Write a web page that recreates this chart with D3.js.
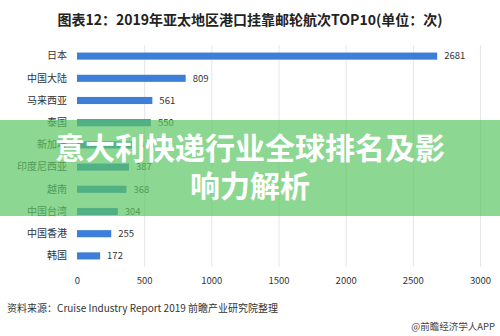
<!DOCTYPE html>
<html><head><meta charset="utf-8">
<script src="https://cdn.jsdelivr.net/npm/d3@7"></script>
<style>
html,body{margin:0;padding:0;background:#fff;}
svg{display:block;font-family:"Noto Sans CJK SC","Noto Sans",sans-serif;}
</style></head>
<body>
<svg id="c" width="500" height="336"></svg>
<script>
const categories = ["日本","中国大陆","马来西亚","泰国","新加坡","印度尼西亚","越南","中国台湾","中国香港","韩国"];
const values = [2681, 809, 561, 550, 410, 387, 368, 304, 255, 172];
const xTicks = [0, 500, 1000, 1500, 2000, 2500, 3000];
const titleText = "图表12：2019年亚太地区港口挂靠邮轮航次TOP10(单位：次)";
const sourceText = "资料来源：Cruise Industry Report 2019 前瞻产业研究院整理";
const brandText = "@前瞻经济学人APP";
const bannerLines = ["意大利快递行业全球排名及影", "响力解析"];

const svg = d3.select("#c");
const x = d3.scaleLinear().domain([0, 3000]).range([77, 480]);
const y = d3.scaleBand().domain(categories).range([45, 267]).paddingInner(0.68).paddingOuter(0.34);

svg.append("text").attr("x", 250).attr("y", 25).attr("text-anchor", "middle")
  .attr("font-size", 14).attr("font-weight", "bold").attr("fill", "#222").text(titleText);

// gridlines
svg.append("g").selectAll("line").data(xTicks.slice(1)).join("line")
  .attr("x1", d => x(d) + 0.5).attr("x2", d => x(d) + 0.5)
  .attr("y1", 45).attr("y2", 267).attr("stroke", "#e3e6ea").attr("stroke-width", 1);

// x axis labels
const xAxis = d3.axisBottom(x).tickValues(xTicks).tickFormat(d3.format("d")).tickSize(0).tickPadding(0);
const gx = svg.append("g").attr("transform", "translate(0,277)").call(xAxis);
gx.select(".domain").remove();
gx.selectAll("text").attr("font-size", 9.5).attr("fill", "#333")
  .attr("font-family", "'Noto Sans CJK SC','Noto Sans',sans-serif");

// y axis labels
const yAxis = d3.axisLeft(y).tickSize(0).tickPadding(0);
const gy = svg.append("g").attr("transform", "translate(67,0)").call(yAxis);
gy.select(".domain").remove();
gy.selectAll("text").attr("font-size", 10).attr("fill", "#333")
  .attr("font-family", "'Noto Sans CJK SC','Noto Sans',sans-serif");

// bars
svg.append("g").selectAll("rect").data(categories).join("rect")
  .attr("x", x(0)).attr("y", d => y(d))
  .attr("width", (d, i) => x(values[i]) - x(0)).attr("height", y.bandwidth())
  .attr("fill", "#3d7ed8");

// value labels
svg.append("g").selectAll("text").data(categories).join("text")
  .attr("x", (d, i) => x(values[i]) + 7).attr("y", d => y(d) + y.bandwidth() / 2)
  .attr("dy", "0.35em").attr("font-size", 9.5).attr("fill", "#333")
  .text((d, i) => values[i]);

// source & brand
svg.append("text").attr("x", 7).attr("y", 312).attr("font-size", 10).attr("fill", "#333").text(sourceText);
svg.append("text").attr("x", 495).attr("y", 330).attr("text-anchor", "end")
  .attr("font-size", 9.5).attr("fill", "#444").text(brandText);

// banner overlay
svg.append("rect").attr("x", 0).attr("y", 120).attr("width", 500).attr("height", 96)
  .attr("fill", "rgb(91,198,98)").attr("opacity", 0.7);
svg.append("g").selectAll("text").data(bannerLines).join("text")
  .attr("x", 250).attr("y", (d, i) => 159 + i * 38).attr("text-anchor", "middle")
  .attr("font-size", 30).attr("font-weight", "bold").attr("fill", "#fff")
  .text(d => d);
</script>
</body></html>
